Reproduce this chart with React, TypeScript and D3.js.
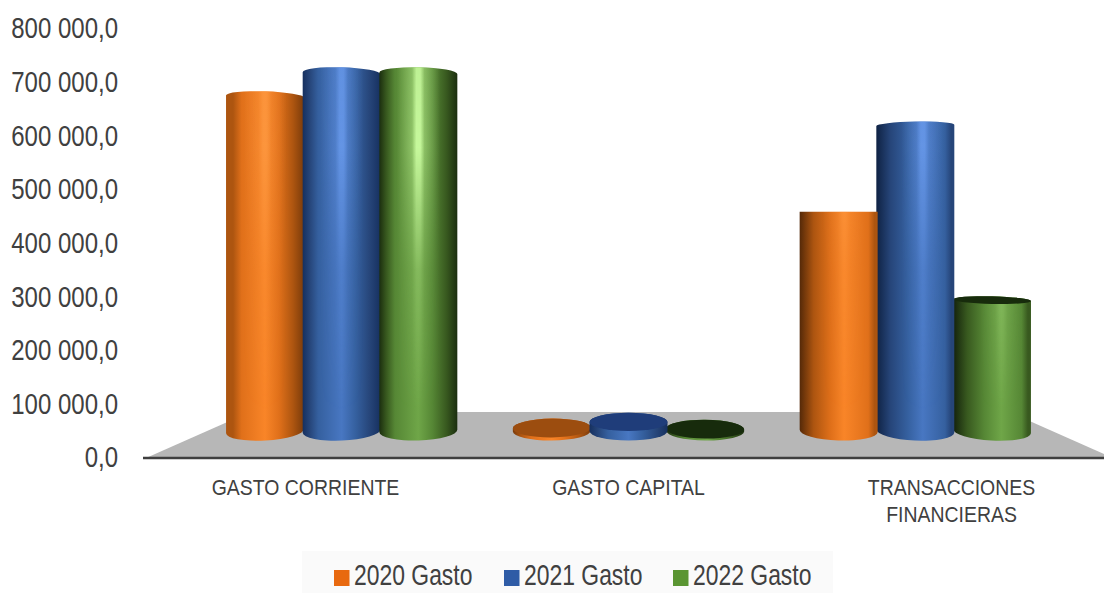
import React from "react";
import * as d3 from "d3";

const categories = ["GASTO CORRIENTE", "GASTO CAPITAL", "TRANSACCIONES FINANCIERAS"];
const categoryLines = [["GASTO CORRIENTE"], ["GASTO CAPITAL"], ["TRANSACCIONES", "FINANCIERAS"]];
const seriesNames = ["2020 Gasto", "2021 Gasto", "2022 Gasto"];
const gasto2020 = [624000, 5600, 409000];
const gasto2021 = [667000, 17000, 570000];
const gasto2022 = [667000, 3500, 244000];
const seriesValues = [gasto2020, gasto2021, gasto2022];

const palettes = [
  { edge: "#7a3b0b", dark: "#ad5510", mid: "#e0701a", light: "#f98528", top: "#9c4d0f", swatch: "#e8690f", glow: "#ffa24d", glowOpacity: 0.55 },
  { edge: "#16305f", dark: "#264579", mid: "#35609f", light: "#4877c2", top: "#1f3d7a", swatch: "#2f5ca6", glow: "#6d9ef0", glowOpacity: 0.75 },
  { edge: "#1b2e0f", dark: "#38591f", mid: "#568735", light: "#6fa648", top: "#172b0c", swatch: "#5a9532", glow: "#c6f89c", glowOpacity: 1 },
];

const W = 1104;
const H = 593;
const AXIS_LEFT = 144;
const AXIS_RIGHT = 1113;
const AXIS_ZERO_Y = 458;
const AXIS_TOP_Y = 29;
const FLOOR_BACK_Y = 412;
const BASE_Y = 431; // centre of the cylinder bases on the floor
const HORIZON_Y = 212; // cylinder ends at this height are seen edge-on
const DEPTH = 0.888; // shrink of the floor's middle row relative to its front edge
const RX = 39;

const fmt = d3.formatLocale({ decimal: ",", thousands: " ", grouping: [3], currency: ["", ""] }).format(",.1f");

const yAxis = d3.scaleLinear().domain([0, 800000]).range([AXIS_ZERO_Y, AXIS_TOP_Y]);
const yBar = d3.scaleLinear().domain([0, 800000]).range([BASE_Y, BASE_Y - (AXIS_ZERO_Y - AXIS_TOP_Y)]);
const xCat = d3.scaleBand().domain(categories).range([AXIS_LEFT, AXIS_RIGHT]);
const xSeries = d3.scaleBand().domain(seriesNames).range([-115, 115]);
const midX = (AXIS_LEFT + AXIS_RIGHT) / 2;

// Perspective of a horizontal circle at a given screen position.
const ellipseAt = (cx: number, cy: number) => {
  const ry = Math.abs(cy - HORIZON_Y) / 23;
  const rot = 4e-5 * (cy - HORIZON_Y) * (cx - midX);
  const r = (rot * Math.PI) / 180;
  return {
    cx, cy, ry, rot,
    lx: cx - RX * Math.cos(r), ly: cy - RX * Math.sin(r),
    rx: cx + RX * Math.cos(r), ry2: cy + RX * Math.sin(r),
  };
};

const cylinders = categories.flatMap((cat, c) =>
  seriesNames.map((name, s) => {
    const front = xCat(cat)! + xCat.bandwidth() / 2;
    const cx = midX + (front - midX) * DEPTH + xSeries(name)! + xSeries.bandwidth() / 2;
    return { id: `c${c}s${s}`, s, cx, top: yBar(seriesValues[s][c]) };
  })
).sort((a, b) => Math.abs(b.cx - midX) - Math.abs(a.cx - midX));

const bodyPath = (t: ReturnType<typeof ellipseAt>, b: ReturnType<typeof ellipseAt>) =>
  `M${t.lx},${t.ly}A${RX},${t.ry} ${t.rot} 0 1 ${t.rx},${t.ry2}L${b.rx},${b.ry2}A${RX},${b.ry} ${b.rot} 0 1 ${b.lx},${b.ly}Z`;

const Label = ({ x, y, sx, size, anchor, children }: any) => (
  <text
    transform={`translate(${x},${y}) scale(${sx},1)`}
    fontFamily="'Liberation Sans', Arial, sans-serif"
    fontSize={size}
    fill="#404040"
    textAnchor={anchor}
    dominantBaseline="central"
  >
    {children}
  </text>
);

export default function App() {
  const legendSwatches = [334, 504, 673];
  return (
    <svg width={W} height={H} viewBox={`0 0 ${W} ${H}`} style={{ position: "absolute", left: 0, top: 0, background: "#fff" }}>
      <defs>
        <linearGradient id="fade" gradientUnits="userSpaceOnUse" x1="0" x2="0" y1="60" y2="410">
          <stop offset="0" stopColor="#fff" stopOpacity="0.9" />
          <stop offset="0.25" stopColor="#fff" stopOpacity="1" />
          <stop offset="0.6" stopColor="#fff" stopOpacity="0.25" />
          <stop offset="1" stopColor="#fff" stopOpacity="0" />
        </linearGradient>
        <mask id="glowMask" maskUnits="userSpaceOnUse" x="0" y="0" width={W} height={H}>
          <rect width={W} height={H} fill="url(#fade)" />
        </mask>
        {cylinders.map((c) => {
          const p = palettes[c.s];
          const dx = (c.cx - midX) / 363;
          const onRight = dx > 0.4;
          const onLeft = dx < -0.4;
          const peak = 0.5 + Math.max(0, dx) * 0.12;
          const leftEdge = onRight ? d3.interpolateRgb(p.edge, "#000")(0.3) : onLeft && c.s === 0 ? p.dark : p.edge;
          const rightEdge = onRight ? p.dark : p.edge;
          const leftRamp = onRight ? 0.4 : onLeft ? 0.2 : 0.24;
          const rightRamp = onRight ? 0.88 : 0.68;
          return (
            <React.Fragment key={c.id}>
              <linearGradient id={`body-${c.id}`}>
                <stop offset="0" stopColor={leftEdge} />
                <stop offset={leftRamp * 0.45} stopColor={p.dark} />
                <stop offset={leftRamp} stopColor={p.mid} />
                <stop offset={peak} stopColor={p.light} />
                <stop offset={rightRamp} stopColor={p.mid} />
                <stop offset={(rightRamp + 1) / 2 + 0.02} stopColor={p.dark} />
                <stop offset="1" stopColor={rightEdge} />
              </linearGradient>
              <linearGradient id={`glow-${c.id}`}>
                <stop offset={peak - 0.28} stopColor={p.glow} stopOpacity="0" />
                <stop offset={peak - 0.08} stopColor={p.glow} stopOpacity={p.glowOpacity * 0.4} />
                <stop offset={peak - 0.025} stopColor={p.glow} stopOpacity={p.glowOpacity} />
                <stop offset={peak + 0.025} stopColor={p.glow} stopOpacity={p.glowOpacity} />
                <stop offset={peak + 0.08} stopColor={p.glow} stopOpacity={p.glowOpacity * 0.4} />
                <stop offset={peak + 0.28} stopColor={p.glow} stopOpacity="0" />
              </linearGradient>
            </React.Fragment>
          );
        })}
      </defs>

      {/* floor */}
      <polygon
        points={`${AXIS_LEFT + 2},${AXIS_ZERO_Y} 250,${FLOOR_BACK_Y} 1009,${FLOOR_BACK_Y} ${AXIS_RIGHT},${AXIS_ZERO_Y}`}
        fill="#b7b7b7"
      />
      <line x1={AXIS_LEFT - 1} x2={W} y1={AXIS_ZERO_Y} y2={AXIS_ZERO_Y} stroke="#3f3f3f" strokeWidth={2.6} />

      {/* value axis */}
      {yAxis.ticks(8).map((t) => (
        <Label key={t} x={118} y={yAxis(t) - 1} sx={0.8} size={30} anchor="end">
          {fmt(t)}
        </Label>
      ))}

      {/* cylinders */}
      {cylinders.map((c) => {
        const p = palettes[c.s];
        const t = ellipseAt(c.cx, c.top);
        const b = ellipseAt(c.cx, BASE_Y);
        const d = bodyPath(t, b);
        return (
          <g key={c.id}>
            <path d={d} fill={`url(#body-${c.id})`} />
            <path d={d} fill={`url(#glow-${c.id})`} mask="url(#glowMask)" />
            {c.top > HORIZON_Y + 5 && (
              <ellipse
                cx={c.cx}
                cy={c.top}
                rx={RX}
                ry={t.ry}
                transform={`rotate(${t.rot} ${c.cx} ${c.top})`}
                fill={p.top}
              />
            )}
          </g>
        );
      })}

      {/* category labels */}
      {categories.map((cat, i) =>
        categoryLines[i].map((line, j) => (
          <Label key={line} x={xCat(cat)! + xCat.bandwidth() / 2} y={487 + j * 27} sx={0.865} size={22.5} anchor="middle">
            {line}
          </Label>
        ))
      )}

      {/* legend */}
      <rect x={302} y={551} width={531} height={42} fill="#fafafa" />
      {seriesNames.map((name, i) => (
        <g key={name}>
          <rect x={legendSwatches[i]} y={570} width={15.5} height={16} fill={palettes[i].swatch} />
          <Label x={legendSwatches[i] + 20} y={575} sx={0.79} size={29} anchor="start">
            {name}
          </Label>
        </g>
      ))}
    </svg>
  );
}
